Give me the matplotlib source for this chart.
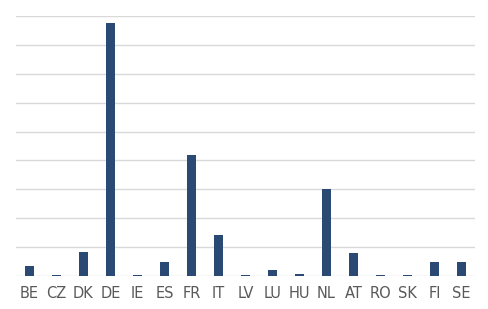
import matplotlib
matplotlib.use("Agg")
import matplotlib.pyplot as plt
import numpy as np

countries = ["BE", "CZ", "DK", "DE", "IE", "ES", "FR", "IT", "LV", "LU",
             "HU", "NL", "AT", "RO", "SK", "FI", "SE"]
values = [0.36, 0.04, 0.83, 8.77, 0.04, 0.47, 4.18, 1.41, 0.04, 0.20,
          0.08, 3.00, 0.81, 0.04, 0.04, 0.48, 0.48]
grid_levels = list(range(0, 10))

fig = plt.figure(figsize=(4.89, 3.09), dpi=100)
ax = fig.add_axes([16/489, 1 - 276/309, (475-16)/489, (276-16)/309])

x = np.arange(len(countries))
ax.bar(x, values, width=0.32, color="#2B4A73", zorder=3)
ax.set_xlim(-0.5, len(countries) - 0.5)
ax.set_ylim(0, 9)
ax.set_yticks(grid_levels)
ax.yaxis.grid(True, color="#d9d9d9", linewidth=1.0, zorder=0)
ax.tick_params(axis="y", left=False, labelleft=False)
ax.set_xticks(x)
ax.set_xticklabels(countries, fontsize=10.5, color="#595959")
ax.tick_params(axis="x", length=0, pad=7)
for s in ax.spines.values():
    s.set_visible(False)

fig.savefig("out.png", dpi=100)
